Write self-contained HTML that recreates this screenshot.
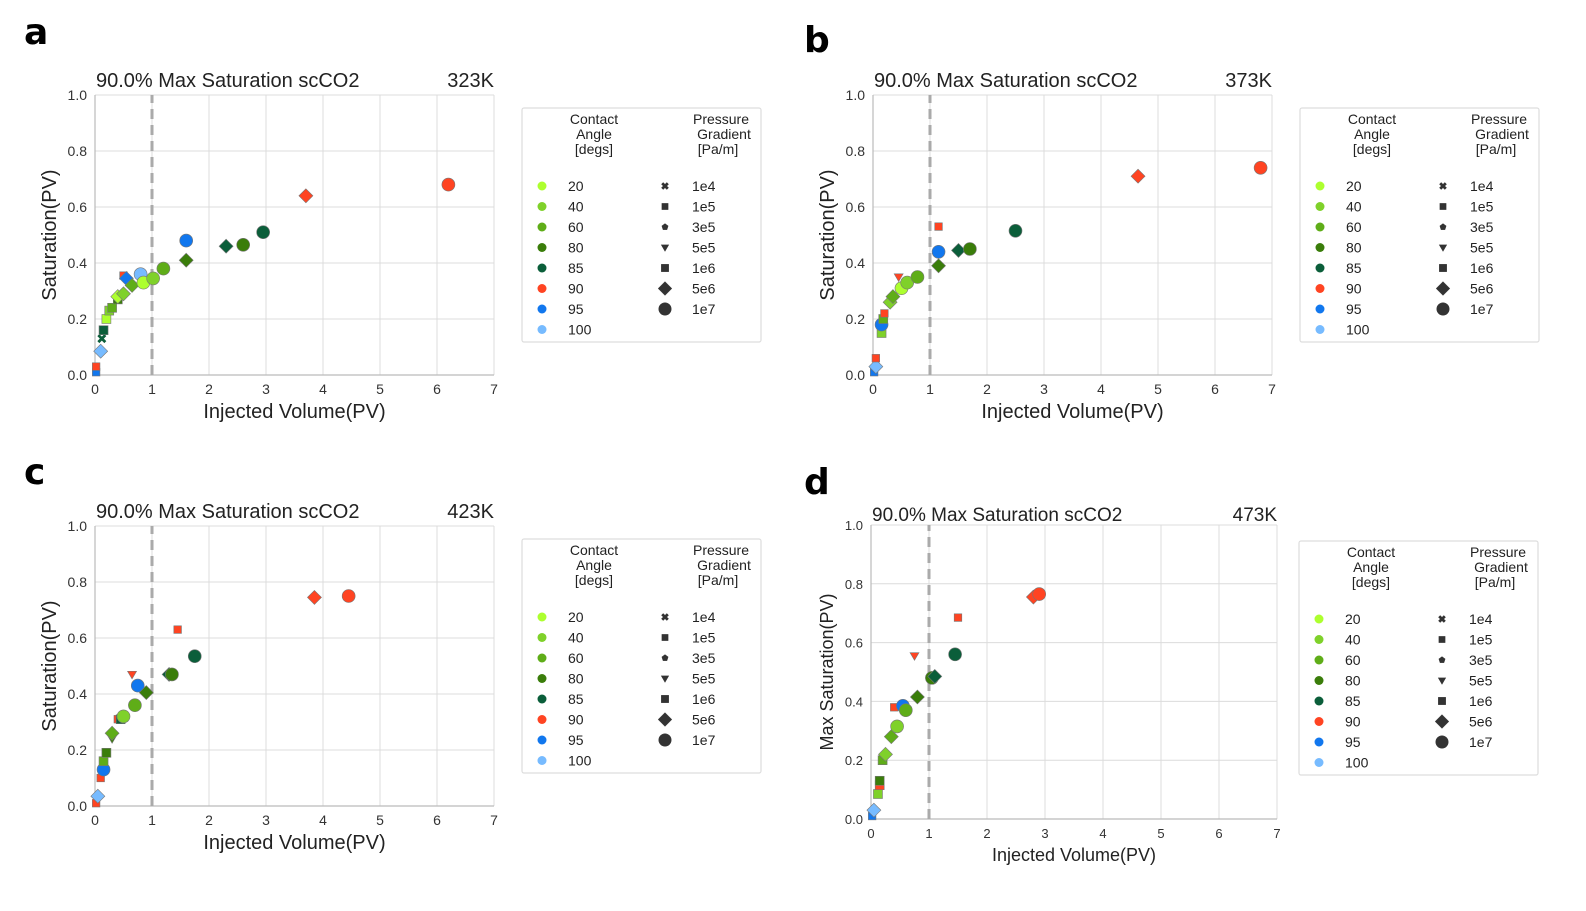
<!DOCTYPE html>
<html><head><meta charset="utf-8"><style>
body{margin:0;background:#fff;width:1586px;height:906px;overflow:hidden;font-family:"Liberation Sans",sans-serif}
</style></head><body>
<svg id="fig" width="1586" height="906" xmlns="http://www.w3.org/2000/svg" font-family="Liberation Sans, sans-serif"></svg>
<script>
const angleLabels=["20","40","60","80","85","90","95","100"];
const angleColors=["#adff2f","#7fd12a","#5fad18","#3a7d0a","#0b5e3a","#ff4422","#1177ee","#77bbff"];
const pressureLabels=["1e4","1e5","3e5","5e5","1e6","5e6","1e7"];
const xTicks=[0,1,2,3,4,5,6,7];
const yTicks=[0,0.2,0.4,0.6,0.8,1.0];
// panel a
const aX=[6.2,3.7,2.95,2.6,2.3,1.6,1.6,1.2,1.02,0.85,0.8,0.65,0.55,0.5,0.5,0.4,0.4,0.3,0.25,0.2,0.15,0.12,0.1,0.02,0.02];
const aY=[0.68,0.64,0.51,0.465,0.46,0.41,0.48,0.38,0.345,0.33,0.36,0.32,0.345,0.355,0.29,0.28,0.27,0.24,0.23,0.2,0.16,0.13,0.085,0.03,0.01];
const aA=[5,5,4,3,4,3,6,2,1,0,7,2,6,5,1,0,3,2,1,0,4,4,7,5,6];
const aS=[6,5,6,6,5,5,6,6,6,6,6,5,5,1,5,5,4,4,4,4,4,0,5,1,1];
// panel b
const bX=[6.8,4.65,2.5,1.7,1.5,1.15,1.15,1.15,0.78,0.6,0.5,0.45,0.35,0.3,0.2,0.18,0.15,0.15,0.05,0.05,0.02];
const bY=[0.74,0.71,0.515,0.45,0.445,0.53,0.39,0.44,0.35,0.33,0.31,0.35,0.28,0.26,0.22,0.2,0.18,0.15,0.06,0.03,0.01];
const bA=[5,5,4,3,4,5,3,6,2,1,0,5,2,1,5,2,6,1,5,7,6];
const bS=[6,5,6,6,5,1,5,6,6,6,6,3,5,5,1,4,6,4,1,5,1];
// panel c
const cX=[4.45,3.85,1.45,1.75,1.35,1.3,0.9,0.75,0.7,0.65,0.5,0.45,0.4,0.3,0.3,0.2,0.15,0.15,0.1,0.05,0.02];
const cY=[0.75,0.745,0.63,0.535,0.47,0.47,0.405,0.43,0.36,0.47,0.32,0.31,0.31,0.26,0.24,0.19,0.16,0.13,0.1,0.035,0.01];
const cA=[5,5,5,4,3,4,3,6,2,5,1,4,5,2,3,3,2,6,5,7,5];
const cS=[6,5,1,6,6,5,5,6,6,3,6,4,1,5,3,4,4,6,1,5,1];
// panel d
const dX=[2.9,2.8,1.5,1.45,1.1,1.05,0.75,0.8,0.6,0.55,0.45,0.4,0.35,0.25,0.2,0.15,0.15,0.12,0.05,0.02];
const dY=[0.765,0.755,0.685,0.56,0.485,0.48,0.555,0.415,0.37,0.385,0.315,0.38,0.28,0.22,0.2,0.13,0.115,0.085,0.03,0.01];
const dA=[5,5,5,4,4,3,5,3,2,6,1,5,2,1,2,3,5,1,7,6];
const dS=[6,5,1,6,5,6,3,5,6,6,6,1,5,5,4,4,4,4,5,1];

const NS="http://www.w3.org/2000/svg";
const svg=document.getElementById('fig');
function mk(tag,attrs,parent){const e=document.createElementNS(NS,tag);for(const k in attrs)e.setAttribute(k,attrs[k]);(parent||svg).appendChild(e);return e;}
function txt(s,attrs,parent){const e=mk('text',attrs,parent);e.textContent=s;return e;}
function marker(g,shape,cx,cy,fill,scale){
  let e;const s=scale||1;
  if(shape===6)e=mk('circle',{cx:cx,cy:cy,r:6.5*s},g);
  else if(shape===5){const r=7*s;e=mk('polygon',{points:`${cx},${cy-r} ${cx+r},${cy} ${cx},${cy+r} ${cx-r},${cy}`},g);}
  else if(shape===4){const r=4.5*s;e=mk('rect',{x:cx-r,y:cy-r,width:2*r,height:2*r},g);}
  else if(shape===1){const r=3.8*s;e=mk('rect',{x:cx-r,y:cy-r,width:2*r,height:2*r},g);}
  else if(shape===3){const r=4.5*s;e=mk('polygon',{points:`${cx-r},${cy-r*0.7} ${cx+r},${cy-r*0.7} ${cx},${cy+r}`},g);}
  else if(shape===2){const r=4*s;let p=[];for(let i=0;i<5;i++){const a=-Math.PI/2+i*2*Math.PI/5;p.push((cx+r*Math.cos(a))+','+(cy+r*Math.sin(a)));}e=mk('polygon',{points:p.join(' ')},g);}
  else {const r=3.5*s;e=mk('path',{d:`M${cx-r},${cy-r}L${cx+r},${cy+r}M${cx+r},${cy-r}L${cx-r},${cy+r}`,'stroke-width':2.8},g);e.setAttribute('stroke',fill);return e;}
  e.setAttribute('fill',fill);e.setAttribute('stroke','#777');e.setAttribute('stroke-width','0.6');
  return e;
}
function panel(cfg){
  const g=mk('g',{});
  
  
  const {x0,x1,y0,y1}=cfg;
  const sx=v=>x0+(x1-x0)*v/7, sy=v=>y0-(y0-y1)*v;
  const lab=txt(cfg.id,{x:cfg.lx,y:cfg.ly,'font-size':36,'font-weight':'bold','font-family':'DejaVu Sans, sans-serif'},g);
  
  xTicks.forEach(t=>{mk('line',{x1:sx(t),x2:sx(t),y1:y0,y2:y1,stroke:'#dcdcdc','stroke-width':1},g);
    const e=txt(String(t),{x:sx(t),y:y0+19,'font-size':cfg.tf,'text-anchor':'middle',fill:'#333'},g);
    });
  yTicks.forEach(t=>{mk('line',{x1:x0,x2:x1,y1:sy(t),y2:sy(t),stroke:'#dcdcdc','stroke-width':1},g);
    const e=txt(t.toFixed(1),{x:x0-8,y:sy(t)+5,'font-size':cfg.tf,'text-anchor':'end',fill:'#333'},g);
    });
  mk('line',{x1:x0,x2:x1,y1:y0,y2:y0,stroke:'#bbb','stroke-width':1.2},g);
  mk('line',{x1:x0,x2:x0,y1:y0,y2:y1,stroke:'#bbb','stroke-width':1.2},g);
  const dl=mk('line',{x1:sx(1),x2:sx(1),y1:y0,y2:y1,stroke:'#aaa','stroke-width':3,'stroke-dasharray':'10,6'},g);
  
  let e=txt('90.0% Max Saturation scCO2',{x:x0+1,y:cfg.ty,'font-size':cfg.hf,fill:'#222'},g);
  
  e=txt(cfg.temp,{x:x1,y:cfg.ty,'font-size':cfg.hf,'text-anchor':'end',fill:'#222'},g);
  
  e=txt('Injected Volume(PV)',{x:(x0+x1)/2,y:cfg.xly,'font-size':cfg.af,'text-anchor':'middle',fill:'#222'},g);
  
  const yc=(y0+y1)/2;
  e=txt(cfg.ylab,{x:cfg.ylx,y:yc,'font-size':cfg.af,'text-anchor':'middle',fill:'#222',transform:`rotate(-90 ${cfg.ylx} ${yc})`},g);
  
  const pts=mk('g',{},g);
  
  const order=cfg.X.map((_,i)=>i).reverse();
  order.forEach(i=>{const m=marker(pts,cfg.S[i],sx(cfg.X[i]),sy(cfg.Y[i]),angleColors[cfg.A[i]]);
    
    });
  // legend
  const L=cfg.leg;const lg=mk('g',{},g);
  
  mk('rect',{x:L.x,y:L.y,width:239,height:234,fill:'#fff',stroke:'#ddd','stroke-width':1.2,rx:2},lg);
  [['Contact',0],['Angle',15],['[degs]',30]].forEach(([s,dy])=>txt(s,{x:L.x+72,y:L.y+16+dy,'font-size':14,'text-anchor':'middle',fill:'#222'},lg));
  [['Pressure',0],['Gradient',15],['[Pa/m]',30]].forEach(([s,dy],k)=>txt(s,{x:L.x+200+(k==0?-1:(k==1?2:-4)),y:L.y+16+dy,'font-size':14,'text-anchor':'middle',fill:'#222'},lg));
  angleLabels.forEach((s,i)=>{const yy=L.y+78+i*20.5;
    const ent=mk('g',{},lg);
    mk('circle',{cx:L.x+20,cy:yy,r:4.5,fill:angleColors[i]},ent);
    txt(s,{x:L.x+46,y:yy+5,'font-size':14,fill:'#222'},ent);});
  pressureLabels.forEach((s,i)=>{const yy=L.y+78+i*20.5;
    const ent=mk('g',{},lg);
    const m=marker(ent,i,L.x+143,yy,'#333',i>=5?0.95:0.8);m.setAttribute('stroke','#333');
    txt(s,{x:L.x+170,y:yy+5,'font-size':14,fill:'#222'},ent);});
}
panel({id:'a',lx:24,ly:44,x0:95,x1:494,y0:375,y1:95,temp:'323K',ty:87,ylab:'Saturation(PV)',ylx:56,xly:418,tf:14,hf:20,af:20,X:aX,Y:aY,A:aA,S:aS,leg:{x:522,y:108}});
panel({id:'b',lx:804,ly:52,x0:873,x1:1272,y0:375,y1:95,temp:'373K',ty:87,ylab:'Saturation(PV)',ylx:834,xly:418,tf:14,hf:20,af:20,X:bX,Y:bY,A:bA,S:bS,leg:{x:1300,y:108}});
panel({id:'c',lx:24,ly:484,x0:95,x1:494,y0:806,y1:526,temp:'423K',ty:518,ylab:'Saturation(PV)',ylx:56,xly:849,tf:14,hf:20,af:20,X:cX,Y:cY,A:cA,S:cS,leg:{x:522,y:539}});
panel({id:'d',lx:804,ly:494,x0:871,x1:1277,y0:819,y1:525,temp:'473K',ty:521,ylab:'Max Saturation(PV)',ylx:833,xly:861,tf:13,hf:19,af:18,X:dX,Y:dY,A:dA,S:dS,leg:{x:1299,y:541}});
</script>
</body></html>
